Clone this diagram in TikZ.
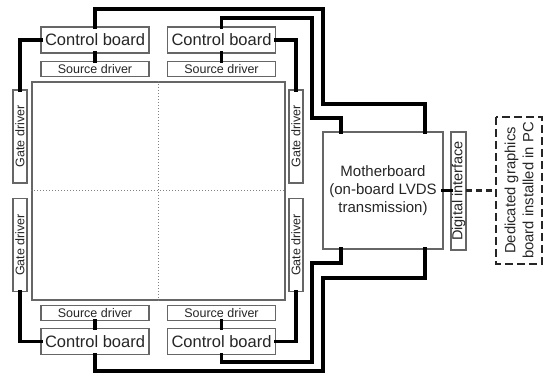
\documentclass[tikz,border=0pt]{standalone}
\usepackage{fontspec}
\setmainfont{Liberation Sans}
\begin{document}
\begin{tikzpicture}[x=1pt,y=-1pt,
  box/.style={draw=black!60,line width=1.2pt,fill=white,inner sep=0pt,outer sep=0pt,text=black!85},
  cbbox/.style={box,minimum width=108pt,minimum height=26pt,font=\fontsize{16.5}{18}\selectfont},
  sdbox/.style={box,minimum width=108pt,minimum height=15pt,font=\fontsize{12.5}{14}\selectfont},
  gdbox/.style={box,minimum width=93pt,minimum height=14pt,rotate=90,font=\fontsize{12.5}{14}\selectfont},
  wire/.style={line width=3.4pt,black,line cap=rect},
  ]
\useasboundingbox (0,0) rectangle (547,374);
% panel
\node[draw=black!60,line width=1.2pt,minimum width=253pt,minimum height=218pt,inner sep=0pt] (panel) at (158.5,191) {};
\draw[black!50,line width=1pt,dotted] (panel.north) -- (panel.south);
\draw[black!50,line width=1pt,dotted] (panel.west) -- (panel.east);
% control boards
\node[cbbox] (cbTL) at (95,40) {Control board};
\node[cbbox] (cbTR) at (221.5,40) {Control board};
\node[cbbox] (cbBL) at (95,341.5) {Control board};
\node[cbbox] (cbBR) at (221.5,341.5) {Control board};
% source drivers
\node[sdbox] (sdTL) at (95,69) {Source driver};
\node[sdbox] (sdTR) at (221.5,69) {Source driver};
\node[sdbox] (sdBL) at (95,313) {Source driver};
\node[sdbox] (sdBR) at (221.5,313) {Source driver};
% gate drivers
\node[gdbox] (gdLT) at (20,136.5) {Gate driver};
\node[gdbox] (gdLB) at (20,245) {Gate driver};
\node[gdbox] (gdRT) at (296,136.5) {Gate driver};
\node[gdbox] (gdRB) at (296,245) {Gate driver};
% motherboard etc
\node[box,minimum width=120pt,minimum height=117pt,align=center,font=\fontsize{15}{18.3}\selectfont] (mb) at (383,190.5) {Motherboard\\(on-board LVDS\\transmission)};
\node[box,minimum width=118pt,minimum height=15pt,rotate=90,font=\fontsize{14.5}{16}\selectfont] (di) at (458.5,191) {Digital interface};
\node[draw=black!85,line width=2.2pt,dash pattern=on 8pt off 4pt,minimum width=147pt,minimum height=46pt,inner sep=0pt,rotate=90,align=center,text=black!85,font=\fontsize{14.8}{18}\selectfont] (dg) at (519,190.5) {Dedicated graphics\\board installed in PC};
% short links
\draw[wire] (cbTL.south) -- (sdTL.north);
\draw[wire] (cbTR.south) -- (sdTR.north);
\draw[wire] (cbBL.north) -- (sdBL.south);
\draw[wire] (cbBR.north) -- (sdBR.south);
% gate driver links
\draw[wire] (cbTL.west) -| (gdLT.east);
\draw[wire] (cbTR.east) -| (gdRT.east);
\draw[wire] (cbBL.west) -| (gdLB.west);
\draw[wire] (cbBR.east) -| (gdRB.west);
% long wires
\coordinate (t1) at (323,9);
\coordinate (t1b) at (425,104);
\coordinate (t2) at (312,18);
\coordinate (t2b) at (341,118);
\coordinate (b1) at (323,371);
\coordinate (b1b) at (425,278);
\coordinate (b2) at (312,362);
\coordinate (b2b) at (341,263);
\draw[wire] (cbTL.north) |- (t1) |- (t1b) -- (t1b |- mb.north);
\draw[wire] (cbTR.north) |- (t2) |- (t2b) -- (t2b |- mb.north);
\draw[wire] (cbBL.south) |- (b1) |- (b1b) -- (b1b |- mb.south);
\draw[wire] (cbBR.south) |- (b2) |- (b2b) -- (b2b |- mb.south);
% interface links
\draw[wire] (mb.east) -- (mb.east -| di.north);
\draw[line width=2.4pt,black!85,dash pattern=on 6pt off 4pt] (di.south |- mb.east) -- (dg.north |- mb.east);
\end{tikzpicture}
\end{document}
